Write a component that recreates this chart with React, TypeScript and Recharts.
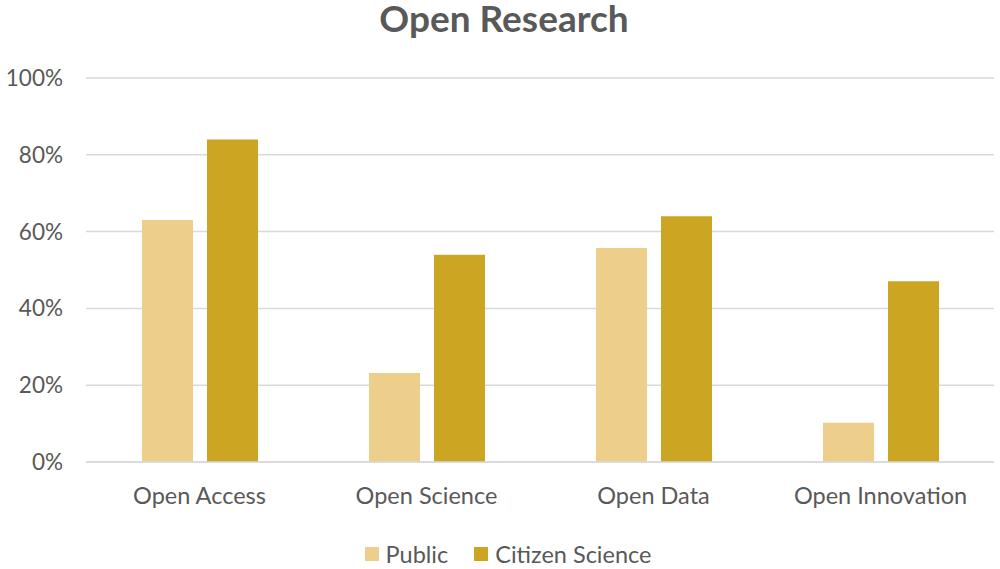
import React from 'react';
import { BarChart, Bar, XAxis, YAxis, CartesianGrid, Legend } from 'recharts';

const categorias = ['Open Access', 'Open Science', 'Open Data', 'Open Innovation'];
const publico = [0.63, 0.232, 0.557, 0.102];
const cidadaos = [0.84, 0.54, 0.64, 0.471];
const ticksY = [0, 0.2, 0.4, 0.6, 0.8, 1];
const nomesSeries = ['Public', 'Citizen Science'];

const dados = categorias.map((cat, i) => ({
  categoria: cat,
  publico: publico[i],
  cidadaos: cidadaos[i],
}));

const FONTE = 'Lato, "Open Sans", sans-serif';
const COR_TEXTO = '#595959';

// Legenda customizada com quadrados e espacamento parecido com o do Excel
const LegendaCustom = ({ payload }: any) => {
  const itens = [...(payload || [])].sort(
    (a: any, b: any) => nomesSeries.indexOf(a.value) - nomesSeries.indexOf(b.value)
  );
  return (
    <div style={{ display: 'flex', justifyContent: 'center', alignItems: 'center', paddingTop: 12, paddingLeft: 22, fontFamily: FONTE, fontSize: 23.5, color: COR_TEXTO }}>
      {itens.map((item: any, i: number) => (
        <div key={i} style={{ display: 'flex', alignItems: 'center', marginRight: i < itens.length - 1 ? 26 : 0 }}>
          <span style={{ width: 14, height: 14, background: item.color, display: 'inline-block', marginRight: 7 }} />
          <span>{item.value}</span>
        </div>
      ))}
    </div>
  );
};

export default function App() {
  return (
    <div style={{ position: 'absolute', left: 0, top: 0, width: 1000, height: 569, background: '#fff' }}>
      <BarChart
        width={1000}
        height={569}
        data={dados}
        margin={{ top: 78, right: 6, left: 0, bottom: 0 }}
        barSize={51}
        barGap={14}
      >
        {/* titulo desenhado como texto SVG dentro do grafico */}
        <text
          x={504}
          y={32}
          textAnchor="middle"
          fontFamily={FONTE}
          fontWeight="bold"
          fontSize={37}
          fill={COR_TEXTO}
        >
          Open Research
        </text>
        <CartesianGrid vertical={false} stroke="#d9d9d9" strokeWidth={1.5} />
        <XAxis
          dataKey="categoria"
          axisLine={{ stroke: '#d9d9d9', strokeWidth: 1.5 }}
          tickLine={false}
          tickSize={6}
          tickMargin={19}
          height={66}
          tick={{ fill: COR_TEXTO, fontSize: 23.5, fontFamily: FONTE }}
        />
        <YAxis
          domain={[0, 1]}
          ticks={ticksY}
          width={86}
          axisLine={false}
          tickLine={false}
          tickSize={6}
          tickMargin={17}
          tickFormatter={(v) => `${Math.round(v * 100)}%`}
          tick={{ fill: COR_TEXTO, fontSize: 22.5, fontFamily: FONTE }}
        />
        <Legend verticalAlign="bottom" content={<LegendaCustom />} height={41} />
        <Bar dataKey="publico" name="Public" fill="#edce8a" isAnimationActive={false} />
        <Bar dataKey="cidadaos" name="Citizen Science" fill="#cca623" isAnimationActive={false} />
      </BarChart>
    </div>
  );
}
